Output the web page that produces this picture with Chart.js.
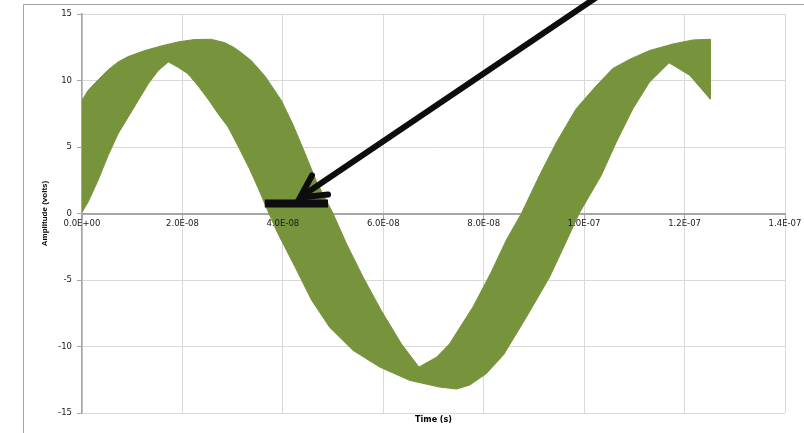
<!DOCTYPE html>
<html>
<head>
<meta charset="utf-8">
<title>Jittered waveform</title>
<script src="https://cdn.jsdelivr.net/npm/chart.js@4/dist/chart.umd.min.js"></script>
<style>
  html, body { margin: 0; padding: 0; background: #ffffff; }
  #wrap { width: 804px; height: 433px; }
</style>
</head>
<body>
<div id="wrap"><canvas id="scope" width="804" height="433"></canvas></div>
<script>
// Envelope of the sampled waveform: top and bottom edge of the trace (time in ns, amplitude in volts)
const upperTimeNs = [0, 1.2, 3.2, 5.2, 7.2, 9.2, 12.5, 15.8, 19.1, 22.4, 25.7, 28.4, 30.2, 31.7, 33.7, 36.5, 39.7,
  42.0, 44.0, 46.7, 50.0, 52.7, 56.0, 59.6, 63.6, 67.1, 70.6, 73.2, 77.9, 81.5, 84.5, 87.5, 91.1, 94.5, 98.4,
  102.4, 105.7, 109.1, 113.0, 117.7, 121.7, 125.1];
const upperVolts = [8.5, 9.25, 10.05, 10.8, 11.4, 11.8, 12.25, 12.6, 12.9, 13.08, 13.1, 12.85, 12.5, 12.1, 11.5, 10.3, 8.5,
  6.7, 4.9, 2.4, 0.0, -2.3, -4.8, -7.3, -9.8, -11.55, -10.8, -9.8, -7.0, -4.4, -2.0, 0.0, 2.86, 5.36, 7.87,
  9.6, 10.9, 11.6, 12.25, 12.75, 13.05, 13.1];

const lowerTimeNs = [0, 1.2, 3.2, 5.2, 7.2, 9.2, 11.2, 13.2, 15.2, 17.2, 19.1, 21.1, 23.1, 25.1, 27.1, 29.1,
  31.3, 33.3, 35.1, 37.0, 39.0, 42.4, 45.7, 49.3, 54.0, 59.3, 65.3, 71.2, 74.6, 77.2, 80.5, 84.0, 88.8,
  93.1, 96.2, 99.0, 103.4, 106.4, 109.7, 113.0, 116.9, 121.0, 125.1];
const lowerVolts = [0.1, 0.85, 2.5, 4.36, 6.0, 7.25, 8.5, 9.75, 10.75, 11.4, 11.0, 10.5, 9.6, 8.6, 7.5, 6.5,
  4.9, 3.4, 1.9, 0.2, -1.5, -4.0, -6.5, -8.55, -10.3, -11.55, -12.55, -13.05, -13.2, -12.9, -12.05, -10.6, -7.6,
  -4.8, -2.3, 0.0, 2.86, 5.36, 7.87, 9.87, 11.33, 10.4, 8.6];

// Axis ranges / tick steps
const timeRangeNs = [0, 140];
const timeStepNs = 20;
const voltRange = [-15, 15];
const voltStep = 5;

// Callout marking the jitter span at the zero crossing (data coordinates: ns, volts)
const jitterSpan = { fromNs: 36.4, toNs: 49.0, volts: 0.75 };
const arrowTail = { x: 102.4, y: 16.24 };
const arrowTip = { x: 43.4, y: 1.2 };
const arrowBarbs = [{ x: 45.8, y: 2.86 }, { x: 49.0, y: 1.43 }];

const GREEN = '#77933c';
const INK = '#0d0d0d';

// Closed outline of the trace: along the top edge, back along the bottom edge
const traceOutline = upperTimeNs.map((t, i) => ({ x: t, y: upperVolts[i] }))
  .concat(lowerTimeNs.map((t, i) => ({ x: t, y: lowerVolts[i] })).reverse());

// Seconds in spreadsheet style, e.g. 2.0E-08
function sciLabel(ns) {
  const s = ns * 1e-9;
  if (Math.abs(s) < 1e-15) return '0.0E+00';
  const parts = s.toExponential(1).split('e');
  const exp = parseInt(parts[1], 10);
  return parts[0] + 'E' + (exp < 0 ? '-' : '+') + String(Math.abs(exp)).padStart(2, '0');
}

const framePlugin = {
  id: 'frame',
  beforeDraw(chart) {
    const ctx = chart.ctx;
    ctx.save();
    ctx.strokeStyle = '#a6a6a6';
    ctx.lineWidth = 1;
    ctx.beginPath();
    ctx.moveTo(23.5, chart.height);
    ctx.lineTo(23.5, 4.5);
    ctx.lineTo(chart.width, 4.5);
    ctx.stroke();
    ctx.restore();
  },
  afterDraw(chart) {
    const ctx = chart.ctx;
    const area = chart.chartArea;
    ctx.save();
    ctx.fillStyle = '#000000';
    ctx.font = 'bold 8px "DejaVu Sans"';
    ctx.textAlign = 'center';
    ctx.textBaseline = 'middle';
    ctx.fillText('Time (s)', (area.left + area.right) / 2, 420);
    ctx.restore();
  }
};

new Chart(document.getElementById('scope'), {
  type: 'line',
  data: {
    datasets: [
      {
        label: 'jitter span',
        data: [{ x: jitterSpan.fromNs, y: jitterSpan.volts }, { x: jitterSpan.toNs, y: jitterSpan.volts }],
        borderColor: INK, borderWidth: 8, borderCapStyle: 'butt',
        pointRadius: 0, fill: false, clip: false, order: 1
      },
      {
        label: 'arrow shaft',
        data: [arrowTail, arrowTip],
        borderColor: INK, borderWidth: 6, borderCapStyle: 'butt',
        pointRadius: 0, fill: false, clip: false, order: 1
      },
      {
        label: 'arrow head',
        data: [arrowBarbs[0], arrowTip, arrowBarbs[1]],
        borderColor: INK, borderWidth: 6, borderCapStyle: 'round', borderJoinStyle: 'miter',
        pointRadius: 0, fill: false, clip: false, order: 1
      },
      {
        label: 'Amplitude',
        data: traceOutline,
        borderColor: GREEN, backgroundColor: GREEN, borderWidth: 1,
        pointRadius: 0, tension: 0, fill: 'shape', order: 5
      }
    ]
  },
  options: {
    responsive: false,
    animation: false,
    devicePixelRatio: 1,
    layout: { padding: { left: 36, top: 14, right: 19, bottom: 20 } },
    plugins: { legend: { display: false }, tooltip: { enabled: false } },
    scales: {
      x: {
        type: 'linear',
        axis: 'x',
        position: { y: 0 },
        min: timeRangeNs[0], max: timeRangeNs[1],
        grid: { color: '#d9d9d9', lineWidth: 1, tickLength: 4, tickColor: '#a6a6a6' },
        border: { color: '#a6a6a6', width: 2 },
        ticks: {
          z: 1,
          stepSize: timeStepNs,
          padding: 1,
          maxRotation: 0,
          autoSkip: false,
          color: '#1a1a1a',
          font: { family: '"DejaVu Sans"', size: 8.5 },
          callback: (v) => sciLabel(v)
        }
      },
      y: {
        type: 'linear',
        position: 'left',
        min: voltRange[0], max: voltRange[1],
        afterFit: (scale) => { scale.width = 46; },
        grid: { color: '#d9d9d9', lineWidth: 1, tickLength: 5, tickColor: '#a6a6a6' },
        border: { color: '#a6a6a6', width: 1.5 },
        ticks: {
          stepSize: voltStep,
          padding: 5,
          color: '#1a1a1a',
          font: { family: '"DejaVu Sans"', size: 8.5 }
        },
        title: {
          display: true,
          text: 'Amplitude (volts)',
          color: '#000000',
          font: { family: '"Liberation Sans"', size: 8, weight: 'bold' },
          padding: { top: 4, bottom: 0 }
        }
      }
    }
  },
  plugins: [framePlugin]
});
</script>
</body>
</html>
